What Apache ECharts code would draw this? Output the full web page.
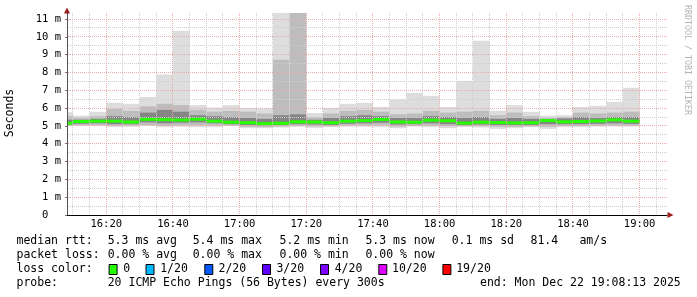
<!DOCTYPE html>
<html><head><meta charset="utf-8">
<script src="https://cdn.jsdelivr.net/npm/echarts@6/dist/echarts.min.js"></script>
<style>html,body{margin:0;padding:0;background:#fff}#c{width:697px;height:297px}</style>
</head><body><div id="c"></div>
<script>
// ---- data (5-minute steps, values in ms) ----
const barStarts = ['16:05','16:10','16:15','16:20','16:25','16:30','16:35','16:40','16:45','16:50','16:55',
  '17:00','17:05','17:10','17:15','17:20','17:25','17:30','17:35','17:40','17:45','17:50','17:55',
  '18:00','18:05','18:10','18:15','18:20','18:25','18:30','18:35','18:40','18:45','18:50','18:55'];
const stepMinutes = 5;
const pingMax = [5.77,5.58,5.79,6.30,6.24,6.63,7.89,10.34,6.17,6.03,6.17,6.00,5.98,12.5,14.0,5.73,6.01,6.24,6.30,6.07,6.48,6.86,6.69,6.07,7.53,9.78,5.86,6.17,5.79,5.58,5.60,6.07,6.13,6.35,7.14];
const pingHi2 = [5.55,5.45,5.55,5.95,5.85,6.10,6.24,6.17,5.90,5.80,5.85,5.80,5.70,8.71,12.0,5.50,5.70,5.85,5.90,5.80,5.65,5.70,5.85,5.75,5.80,5.85,5.60,5.75,5.55,5.45,5.50,5.75,5.70,5.75,5.80];
const pingHi3 = [5.35,5.35,5.40,5.55,5.50,5.75,5.90,5.80,5.60,5.55,5.50,5.45,5.40,5.60,5.65,5.35,5.45,5.55,5.60,5.55,5.45,5.45,5.55,5.50,5.45,5.50,5.40,5.45,5.40,5.38,5.42,5.50,5.45,5.50,5.50];
const medianRtt = [5.15,5.25,5.27,5.27,5.22,5.37,5.35,5.33,5.38,5.27,5.21,5.18,5.13,5.15,5.23,5.22,5.18,5.27,5.30,5.36,5.22,5.21,5.32,5.29,5.16,5.21,5.19,5.17,5.18,5.30,5.23,5.25,5.28,5.34,5.27];
const pingLo3 = [5.07,5.12,5.15,5.10,5.10,5.20,5.15,5.18,5.20,5.15,5.10,5.05,5.03,5.05,5.10,5.08,5.05,5.12,5.15,5.18,5.08,5.10,5.15,5.10,5.05,5.08,5.05,5.05,5.05,5.10,5.10,5.10,5.12,5.15,5.12];
const pingLo2 = [5.02,5.05,5.05,5.00,5.02,5.05,5.00,5.03,5.03,5.02,5.02,4.95,4.93,4.97,5.00,4.97,4.98,5.02,5.03,5.05,4.96,5.00,5.02,4.98,4.98,4.98,4.95,4.95,4.97,4.95,5.00,5.00,5.02,5.03,5.02];
const pingMin = [5.00,5.00,5.00,4.93,4.95,5.00,4.93,4.95,4.93,4.93,5.00,4.87,4.87,4.91,4.96,4.89,4.93,4.96,4.95,4.93,4.87,4.96,4.93,4.87,4.95,4.91,4.83,4.87,4.93,4.83,4.93,4.93,4.96,4.96,4.96];
const xTickLabels = ['16:20','16:40','17:00','17:20','17:40','18:00','18:20','18:40','19:00'];
const yTickValues = [0,1,2,3,4,5,6,7,8,9,10,11];
const startTime = '16:08:13', endTime = '19:08:13';
const yMax = 11.34;
const lossLabels = ['0','1/20','2/20','3/20','4/20','10/20','19/20'];
const lossColors = ['#26ff00','#00b8ff','#0059ff','#5e00ff','#7e00ff','#dd00ff','#ff0000'];

(function(){
function toMin(s){const p=s.split(':').map(Number);return p[0]*60+p[1]+(p[2]||0)/60;}
function fmt(v){const h=Math.floor(v/60),m=Math.round(v-h*60);return h+':'+String(m).padStart(2,'0');}
const xMin = toMin(startTime), xMax = toMin(endTime);

const smokeData = barStarts.map((t,i)=>{const s=toMin(t);return [s,s+stepMinutes,pingMin[i],pingLo2[i],pingLo3[i],medianRtt[i],pingHi3[i],pingHi2[i],pingMax[i]];});

function renderSmoke(params, api){
  const cs = params.coordSys;
  const box = {x:cs.x,y:cs.y,width:cs.width,height:cs.height};
  const s = api.value(0), e = api.value(1);
  const layers = [[2,8,'#dddddd'],[3,7,'#bdbdbd'],[4,6,'#858585']];
  const ch = [];
  layers.forEach(([lo,hi,col])=>{
    const p1 = api.coord([s, api.value(hi)]), p2 = api.coord([e, api.value(lo)]);
    const r = echarts.graphic.clipRectByRect({x:p1[0],y:p1[1],width:p2[0]-p1[0],height:p2[1]-p1[1]}, box);
    if (r) ch.push({type:'rect',shape:r,style:{fill:col}});
  });
  const m1 = api.coord([s, api.value(5)]), m2 = api.coord([e, api.value(5)]);
  const r = echarts.graphic.clipRectByRect({x:m1[0],y:m1[1]-1.5,width:m2[0]-m1[0],height:3}, box);
  if (r) ch.push({type:'rect',shape:r,style:{fill:lossColors[0]}});
  return {type:'group',children:ch};
}

// dotted grid (1px on / 1px off), drawn above the smoke as RRDtool does
function renderGrid(params, api){
  const cs = params.coordSys;
  const gL = Math.round(cs.x), gR = Math.round(cs.x+cs.width), gT = Math.round(cs.y), gB = Math.round(cs.y+cs.height);
  let majorPath = '', minorPath = '';
  const dot = (x,y) => 'M'+x+','+y+'h1v1h-1z';
  for (let v=970; v<xMax; v+=5){
    const x = Math.floor(api.coord([v, 0])[0]);
    let p = '';
    for (let y=gT; y<gB; y+=2) p += dot(x,y);
    if (v%20===0) majorPath += p; else minorPath += p;
  }
  for (let k=1; k<=22; k++){
    const v = k/2; if (v >= yMax) continue;
    const y = Math.floor(api.coord([xMin, v])[1]);
    let p = '';
    for (let x=gL+1; x<gR; x+=2) p += dot(x,y);
    if (k%2===0) majorPath += p; else minorPath += p;
  }
  return {type:'group',children:[
    {type:'path',shape:{pathData:minorPath},style:{fill:'#cfcfcf'}},
    {type:'path',shape:{pathData:majorPath},style:{fill:'#ebaaaa'}}
  ]};
}

const MONO = '"DejaVu Sans Mono", "Liberation Mono", monospace';
const lf = {fontFamily:MONO, fontSize:11.5, fill:'#000'};
function txt(x,y,t,extra){return {type:'text',x:x,y:y,style:Object.assign({text:t,verticalAlign:'middle'},lf,extra||{}),z:10};}

const graphics = [
  {type:'text',x:10,y:113,rotation:Math.PI/2,style:Object.assign({text:'Seconds',align:'center',verticalAlign:'middle'},lf),z:10},
  {type:'text',x:687,y:60,rotation:-Math.PI/2,style:{text:'RRDTOOL / TOBI OETIKER',fontFamily:MONO,fontSize:8.3,fill:'#b4b4b4',align:'center',verticalAlign:'middle'},z:10},
  {type:'polygon',shape:{points:[[67,7.5],[64,13.5],[70,13.5]]},style:{fill:'#9b1c1c'},z:10},
  {type:'polygon',shape:{points:[[673.5,215],[667.5,212],[667.5,218]]},style:{fill:'#9b1c1c'},z:10},
  txt(16.5,241,'median rtt:'), txt(107.7,241,'5.3 ms avg'), txt(192.7,241,'5.4 ms max'), txt(279.5,241,'5.2 ms min'),
  txt(365.4,241,'5.3 ms now'), txt(451.7,241,'0.1 ms sd'), txt(530.5,241,'81.4'), txt(579.4,241,'am/s'),
  txt(16.5,255,'packet loss:'), txt(107.7,255,'0.00 % avg'), txt(192.7,255,'0.00 % max'), txt(279.5,255,'0.00 % min'), txt(365.4,255,'0.00 % now'),
  txt(16.5,269,'loss color:'),
  txt(16.5,283,'probe:'), txt(107.7,283,'20 ICMP Echo Pings (56 Bytes) every 300s'), txt(480,283,'end: Mon Dec 22 19:08:13 2025')
];
const boxX = [108.6,145.5,204.3,262,320,378.3,442.4];
const labX = [123.3,160.2,218.5,276.4,334.7,392,456.2];
lossLabels.forEach((l,i)=>{
  graphics.push({type:'rect',shape:{x:boxX[i]+0.5,y:264.5,width:8,height:10},style:{fill:lossColors[i],stroke:'#000',lineWidth:1},z:10});
  graphics.push(txt(labX[i],269,l));
});

const chart = echarts.init(document.getElementById('c'), null, {renderer:'canvas'});
chart.setOption({
  animation:false,
  backgroundColor:'#ffffff',
  grid:{left:67,right:30,top:13,bottom:82},
  xAxis:{type:'value',min:xMin,max:xMax,z:6,
    axisLine:{show:true,lineStyle:{color:'#000',width:1}},
    axisTick:{show:false},
    splitLine:{show:false},
    axisLabel:{customValues:xTickLabels.map(toMin),formatter:v=>fmt(v),fontFamily:MONO,fontSize:10.5,color:'#000',margin:4}},
  yAxis:{type:'value',min:0,max:yMax,z:6,
    axisLine:{show:true,lineStyle:{color:'#555',width:1}},
    axisTick:{show:true,length:2,customValues:yTickValues,lineStyle:{color:'#777'}},
    splitLine:{show:false},
    axisLabel:{customValues:yTickValues,formatter:v=>v===0?'0  ':v+' m',fontFamily:MONO,fontSize:10.5,color:'#000',margin:6}},
  series:[
    {type:'custom',renderItem:renderSmoke,data:smokeData,encode:{x:[0,1],y:[2,8]},z:2,silent:true},
    {type:'custom',renderItem:renderGrid,data:[[xMin,0]],encode:{x:0,y:1},z:4,silent:true}
  ],
  graphic:graphics
});
})();
</script></body></html>
